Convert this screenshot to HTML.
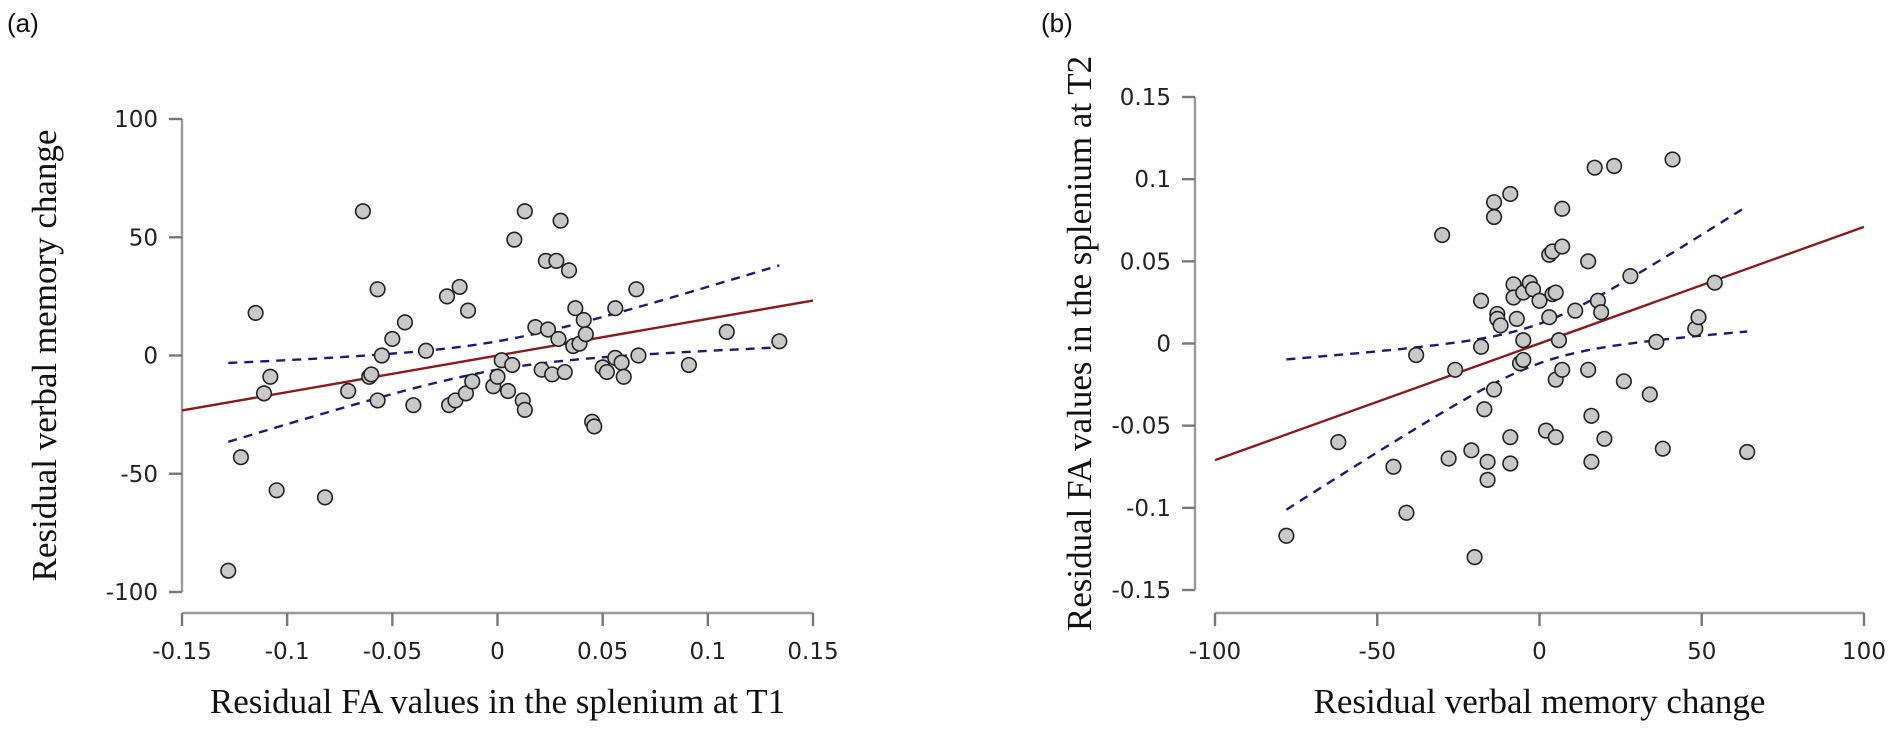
<!DOCTYPE html>
<html><head><meta charset="utf-8"><style>
body{margin:0;background:#fff;}
svg{display:block;}
.tk{font-family:"DejaVu Sans","Liberation Sans",sans-serif;font-size:23px;fill:#222;}
.ttl{font-family:"Liberation Serif",serif;font-size:35px;fill:#111;}
.pl{font-family:"Liberation Sans",sans-serif;font-size:26px;fill:#111;}
</style></head><body>
<svg id="chart" width="1902" height="743"></svg>
<script>
const aX=[-0.128,-0.122,-0.115,-0.111,-0.108,-0.105,-0.082,-0.071,-0.064,-0.061,-0.06,-0.057,-0.057,-0.055,-0.05,-0.044,-0.04,-0.034,-0.024,-0.023,-0.02,-0.018,-0.015,-0.014,-0.012,-0.002,0,0.002,0.005,0.007,0.008,0.012,0.013,0.013,0.018,0.021,0.023,0.024,0.026,0.028,0.029,0.03,0.032,0.034,0.036,0.037,0.039,0.041,0.042,0.045,0.046,0.05,0.052,0.056,0.056,0.059,0.06,0.066,0.067,0.091,0.109,0.134];
const aY=[-91,-43,18,-16,-9,-57,-60,-15,61,-9,-8,28,-19,0,7,14,-21,2,25,-21,-19,29,-16,19,-11,-13,-9,-2,-15,-4,49,-19,-23,61,12,-6,40,11,-8,40,7,57,-7,36,4,20,5,15,9,-28,-30,-5,-7,20,-1,-3,-9,28,0,-4,10,6];
const aXTicks=[-0.15,-0.1,-0.05,0,0.05,0.1,0.15];
const aXLabels=["-0.15","-0.1","-0.05","0","0.05","0.1","0.15"];
const aYTicks=[-100,-50,0,50,100];
const aFit=[0,155];
const aCI=[6,14740];
const aRange=[-0.15,0.15];const aCIRange=[-0.128,0.134];

const bX=[-78,-62,-45,-41,-38,-30,-28,-26,-21,-20,-18,-18,-17,-16,-16,-14,-14,-14,-13,-13,-12,-9,-9,-9,-8,-8,-7,-6,-5,-5,-5,-3,-2,0,2,3,3,4,4,5,5,5,6,7,7,7,11,15,15,16,16,17,18,19,20,23,26,28,34,36,38,41,48,49,54,64];
const bY=[-0.117,-0.06,-0.075,-0.103,-0.007,0.066,-0.07,-0.016,-0.065,-0.13,-0.002,0.026,-0.04,-0.072,-0.083,-0.028,0.077,0.086,0.018,0.015,0.011,0.091,-0.057,-0.073,0.036,0.028,0.015,-0.012,-0.01,0.002,0.031,0.037,0.033,0.026,-0.053,0.054,0.016,0.03,0.056,-0.057,-0.022,0.031,0.002,0.059,0.082,-0.016,0.02,0.05,-0.016,-0.072,-0.044,0.107,0.026,0.019,-0.058,0.108,-0.023,0.041,-0.031,0.001,-0.064,0.112,0.009,0.016,0.037,-0.066];
const bXTicks=[-100,-50,0,50,100];
const bYTicks=[-0.15,-0.1,-0.05,0,0.05,0.1,0.15];
const bYLabels=["-0.15","-0.1","-0.05","0","0.05","0.1","0.15"];
const bFit=[0,0.00071];
const bCI=[0.012,3.2e-7];
const bRange=[-100,100];const bCIRange=[-78,64];

const NS="http://www.w3.org/2000/svg";
const svg=document.getElementById('chart');
function mk(tag,attrs,parent){const e=document.createElementNS(NS,tag);for(const k in attrs)e.setAttribute(k,attrs[k]);(parent||svg).appendChild(e);return e;}

function panel(o){
  const g=mk('g',{});
  
  
  const sx=v=>o.x0+(v-o.xd[0])/(o.xd[1]-o.xd[0])*(o.x1-o.x0);
  const sy=v=>o.y1-(v-o.yd[0])/(o.yd[1]-o.yd[0])*(o.y1-o.y0);
  const ya=mk('line',{x1:o.ax,y1:o.y0,x2:o.ax,y2:o.y1,stroke:'#9a9a9a','stroke-width':2.4},g);
  
  
  o.yt.forEach((v,i)=>{
    mk('line',{x1:o.ax-13,y1:sy(v),x2:o.ax,y2:sy(v),stroke:'#777','stroke-width':2.4},g);
    const t=mk('text',{x:o.ax-24,y:sy(v)+8,'text-anchor':'end',class:'tk'},g);
    t.textContent=o.ytl?o.ytl[i]:String(v);
    
    
  });
  const xa=mk('line',{x1:o.x0,y1:o.ay,x2:o.x1,y2:o.ay,stroke:'#9a9a9a','stroke-width':2.4},g);
  
  
  o.xt.forEach((v,i)=>{
    mk('line',{x1:sx(v),y1:o.ay,x2:sx(v),y2:o.ay+13,stroke:'#777','stroke-width':2.4},g);
    const t=mk('text',{x:sx(v),y:o.ay+46,'text-anchor':'middle',class:'tk'},g);
    t.textContent=o.xtl?o.xtl[i]:String(v);
    
    
  });
  const fl=mk('line',{x1:sx(o.rng[0]),y1:sy(o.fit[0]+o.fit[1]*o.rng[0]),x2:sx(o.rng[1]),y2:sy(o.fit[0]+o.fit[1]*o.rng[1]),stroke:'#8b1a1a','stroke-width':2.4},g);
  
  
  [1,-1].forEach(s=>{
    let d='';const n=40;
    for(let i=0;i<=n;i++){const x=o.cr[0]+(o.cr[1]-o.cr[0])*i/n;const y=o.fit[0]+o.fit[1]*x+s*Math.sqrt(o.ci[0]*o.ci[0]+o.ci[1]*x*x);d+=(i?'L':'M')+sx(x).toFixed(1)+','+sy(y).toFixed(1);}
    const p=mk('path',{d:d,fill:'none',stroke:'#1a1a7a','stroke-width':2.4,'stroke-dasharray':'9,7'},g);
    
    
  });
  o.px.forEach((v,i)=>{
    const c=mk('circle',{cx:sx(v),cy:sy(o.py[i]),r:7.3,fill:'#c8c8c8',stroke:'#222','stroke-width':1.6},g);
    
    
  });
  const xt=mk('text',{x:(o.x0+o.x1)/2,y:713,'text-anchor':'middle',class:'ttl'},g);
  xt.textContent=o.xtitle;
  
  
  const yt=mk('text',{x:0,y:0,'text-anchor':'middle',class:'ttl',transform:`translate(${o.ytx},${(o.y0+o.y1)/2}) rotate(-90)`},g);
  yt.textContent=o.ytitle;
  
  
  const pl=mk('text',{x:o.plx,y:32,class:'pl'},g);
  pl.textContent=o.label;
  
  
}
panel({name:'panel-a',x0:182,x1:813,y0:119,y1:592,ax:182,ay:613,xd:aRange,yd:[-100,100],xt:aXTicks,xtl:aXLabels,yt:aYTicks,
  fit:aFit,ci:aCI,rng:aRange,cr:aCIRange,px:aX,py:aY,xtitle:'Residual FA values in the splenium at T1',ytitle:'Residual verbal memory change',ytx:56,plx:7,label:'(a)'});
panel({name:'panel-b',x0:1215,x1:1864,y0:97,y1:590,ax:1195,ay:613,xd:bRange,yd:[-0.15,0.15],xt:bXTicks,yt:bYTicks,ytl:bYLabels,
  fit:bFit,ci:bCI,rng:bRange,cr:bCIRange,px:bX,py:bY,xtitle:'Residual verbal memory change',ytitle:'Residual FA values in the splenium at T2',ytx:1091,plx:1041,label:'(b)'});
</script>
</body></html>
